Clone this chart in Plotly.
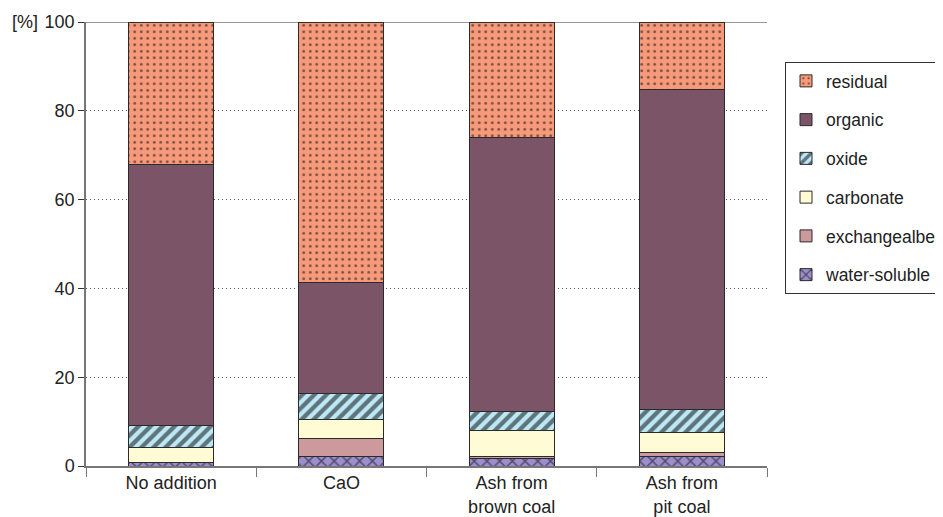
import plotly.graph_objects as go

categories = ["No addition", "CaO", "Ash from<br>brown coal", "Ash from<br>pit coal"]
fractions = ["water-soluble", "exchangealbe", "carbonate", "oxide", "organic", "residual"]

water_soluble = [0.8, 2.2, 1.7, 2.2]
exchangeable = [0.1, 4.1, 0.4, 0.8]
carbonate = [3.3, 4.2, 6.0, 4.6]
oxide = [5.0, 5.9, 4.1, 5.2]
organic = [58.6, 25.0, 61.7, 71.9]
residual = [32.2, 58.6, 26.1, 15.3]

y_ticks = [0, 20, 40, 60, 80, 100]

series = [water_soluble, exchangeable, carbonate, oxide, organic, residual]
colors = ["#9D8FCC", "#CC9A9D", "#FFFBD5", "#BDE8F5", "#7B5467", "#F79A7B"]
patterns = ["x", "", "", "/", "", "."]
psizes = [9, 8, 8, 8.5, 6.5, 6.5]
psolid = [0.3, 0.3, 0.3, 0.5, 0.3, 0.15]

fig = go.Figure()
for i, (name, vals, col, pat, ps, so) in enumerate(zip(fractions, series, colors, patterns, psizes, psolid)):
    fig.add_trace(go.Bar(
        x=categories, y=vals, name=name, width=0.5,
        legendgroup=name, legendrank=100 - i,
        marker=dict(color=col, line=dict(color="#2a2a2a", width=1),
                    pattern=dict(shape=pat, fgcolor="#000", size=ps, solidity=so)),
    ))

W, H = 943, 517
fig.update_layout(
    barmode="stack",
    width=W, height=H,
    margin=dict(l=78, r=184, t=14, b=59, autoexpand=False),
    paper_bgcolor="white", plot_bgcolor="white",
    font=dict(family="Liberation Sans, Arial, sans-serif", size=18, color="#222"),
    showlegend=True,
    legend=dict(x=(777 - 78) / (W - 78 - 184), xanchor="left",
                y=1 - (54 - 14) / (H - 14 - 59), yanchor="top",
                tracegroupgap=13,
                bordercolor="#333", borderwidth=1, bgcolor="white",
                font=dict(size=17.5, color="#222")),
    xaxis=dict(showline=True, linecolor="#777", linewidth=1.5,
               ticks="outside", tickson="boundaries", ticklen=9, tickcolor="#777",
               showgrid=False, tickfont=dict(size=18)),
    yaxis=dict(range=[0, 100], tickvals=y_ticks, showline=True, linecolor="#777", linewidth=1.5,
               ticks="outside", ticklen=6, tickcolor="#333",
               showgrid=True, gridcolor="#555", griddash="1px,3px", gridwidth=1,
               zeroline=False, tickfont=dict(size=18)),
    shapes=[dict(type="line", xref="paper", yref="y", x0=0, x1=1, y0=100, y1=100,
                 line=dict(color="#333", width=1.2))],
    annotations=[dict(text="[%]", xref="paper", yref="y", x=-0.0 - 76 / (W - 78 - 184), y=100,
                      xanchor="left", yanchor="middle", showarrow=False,
                      font=dict(size=18, color="#222"))],
)

fig.write_html("out.html")
